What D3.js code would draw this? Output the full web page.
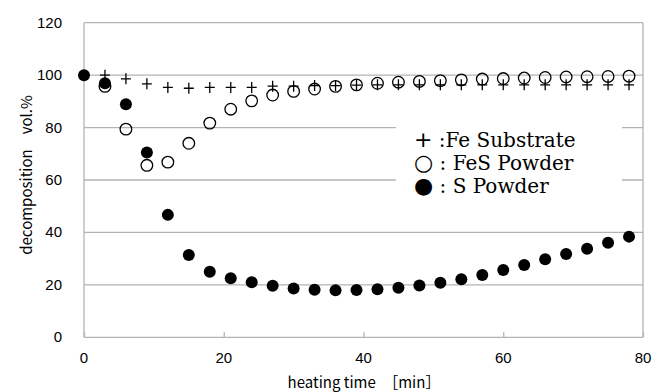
<!DOCTYPE html>
<html>
<head>
<meta charset="utf-8">
<script src="https://cdn.jsdelivr.net/npm/d3@7"></script>
<style>
  body { margin: 0; background: #fff; }
  .tick-label { font-family: "Liberation Sans", "DejaVu Sans", sans-serif; font-size: 15px; fill: #000; }
  .axis-title { font-family: "Noto Sans CJK JP", "Liberation Sans", sans-serif; font-size: 15px; fill: #000; }
  .legend { font-family: "DejaVu Serif", "Liberation Serif", serif; font-size: 20px; fill: #000; }
</style>
</head>
<body>
<div class="chart"></div>
<script>
// heating time (min), one sample every 3 minutes
var times = [0, 3, 6, 9, 12, 15, 18, 21, 24, 27, 30, 33, 36, 39, 42, 45, 48, 51, 54, 57, 60, 63, 66, 69, 72, 75, 78];

// + : Fe Substrate
var feSubstrate = [100, 100, 98.6, 96.7, 95.3, 95, 95.3, 95.3, 95.3, 95.8, 95.8, 96, 96, 96.2, 96.3, 96.3, 96.3, 96.3, 96.3, 96.3, 96.3, 96.3, 96.3, 96.3, 96.3, 96.3, 96.3];

// ○ : FeS Powder
var fesPowder = [100, 95.7, 79.4, 65.6, 66.8, 74.0, 81.7, 87.0, 90.2, 92.4, 93.8, 94.7, 95.7, 96.3, 96.9, 97.3, 97.6, 97.9, 98.2, 98.5, 98.7, 98.9, 99.1, 99.3, 99.4, 99.5, 99.6];

// ● : S Powder
var sPowder = [100, 96.9, 88.9, 70.5, 46.7, 31.4, 25.0, 22.5, 21.0, 19.7, 18.6, 18.1, 17.9, 18.0, 18.3, 18.9, 19.8, 20.8, 22.1, 23.8, 25.7, 27.6, 29.8, 31.8, 33.8, 36.1, 38.4];

var yTicks = [0, 20, 40, 60, 80, 100, 120];
var xTicks = [0, 20, 40, 60, 80];
var legendLines = [
  ["+", " :Fe Substrate"],
  ["\u25CB", " :  FeS Powder"],
  ["\u25CF", " :  S Powder"]
];

var svgWidth = 666, svgHeight = 392;

var svg = d3.select(".chart")
  .append("svg")
  .attr("width", svgWidth)
  .attr("height", svgHeight);

var xScale = d3.scaleLinear().domain([0, 80]).range([84, 643]);
var yScale = d3.scaleLinear().domain([0, 120]).range([337.3, 22.7]);

var gridColor = "#b3b3b3";

// horizontal gridlines
svg.append("g").selectAll("line")
  .data(yTicks)
  .enter()
  .append("line")
  .attr("x1", xScale(0))
  .attr("x2", xScale(80))
  .attr("y1", d => yScale(d))
  .attr("y2", d => yScale(d))
  .attr("stroke", gridColor)
  .attr("stroke-width", 1.3);

// left and right border lines
svg.append("g").selectAll("line")
  .data([0, 80])
  .enter()
  .append("line")
  .attr("x1", d => xScale(d))
  .attr("x2", d => xScale(d))
  .attr("y1", yScale(0))
  .attr("y2", yScale(120))
  .attr("stroke", gridColor)
  .attr("stroke-width", 1.3);

// x axis with small inner ticks
var xAxis = d3.axisBottom(xScale).tickValues(xTicks).tickSizeInner(-5).tickSizeOuter(0).tickFormat("");
var xg = svg.append("g")
  .attr("transform", `translate(0, ${yScale(0)})`)
  .call(xAxis);
xg.select(".domain").remove();
xg.selectAll(".tick line").attr("stroke", gridColor).attr("stroke-width", 1.3);

// tick labels
svg.append("g").selectAll("text")
  .data(yTicks)
  .enter()
  .append("text")
  .attr("class", "tick-label")
  .attr("x", 62)
  .attr("y", d => yScale(d) + 5)
  .attr("text-anchor", "end")
  .text(d => d);

svg.append("g").selectAll("text")
  .data(xTicks)
  .enter()
  .append("text")
  .attr("class", "tick-label")
  .attr("x", d => xScale(d))
  .attr("y", 363)
  .attr("text-anchor", "middle")
  .text(d => d);

// axis titles
svg.append("text")
  .attr("class", "axis-title")
  .attr("text-anchor", "middle")
  .attr("transform", "translate(" + 32 + "," + 175 + ")rotate(-90)")
  .text("decomposition\u3000vol.%");

svg.append("text")
  .attr("class", "axis-title")
  .attr("text-anchor", "middle")
  .attr("x", 364)
  .attr("y", 388)
  .text("heating time\u3000\uFF3Bmin\uFF3D");

// S powder: filled dots
svg.append("g").selectAll("circle")
  .data(times.map((t, i) => [t, sPowder[i]]))
  .enter()
  .append("circle")
  .attr("cx", d => xScale(d[0]))
  .attr("cy", d => yScale(d[1]))
  .attr("r", 6)
  .attr("fill", "#000");

// FeS powder: open circles
svg.append("g").selectAll("circle")
  .data(times.map((t, i) => [t, fesPowder[i]]).slice(1))
  .enter()
  .append("circle")
  .attr("cx", d => xScale(d[0]))
  .attr("cy", d => yScale(d[1]))
  .attr("r", 5.8)
  .attr("fill", "none")
  .attr("stroke", "#000")
  .attr("stroke-width", 1.3);

// Fe substrate: plus signs
svg.append("g").selectAll("path")
  .data(times.map((t, i) => [t, feSubstrate[i]]).slice(1))
  .enter()
  .append("path")
  .attr("d", d => {
    var x = xScale(d[0]), y = yScale(d[1]);
    return `M${x - 5},${y}H${x + 5}M${x},${y - 5.5}V${y + 5.5}`;
  })
  .attr("stroke", "#000")
  .attr("stroke-width", 1.3)
  .attr("fill", "none");

// legend box (white, covers gridlines)
svg.append("rect")
  .attr("x", 396)
  .attr("y", 112)
  .attr("width", 226)
  .attr("height", 93)
  .attr("fill", "#fff");

var legend = svg.append("g");
legendLines.forEach(function(line, i) {
  var t = legend.append("text")
    .attr("class", "legend")
    .attr("x", 414)
    .attr("y", 147 + i * 23);
  t.append("tspan").attr("font-family", "DejaVu Sans").attr("font-size", 22).text(line[0]);
  t.append("tspan").text(line[1]);
});
</script>
</body>
</html>
